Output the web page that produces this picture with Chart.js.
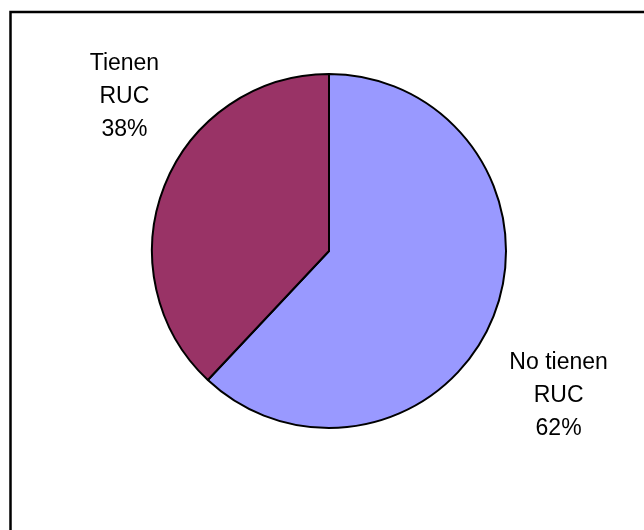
<!DOCTYPE html>
<html>
<head>
<meta charset="utf-8">
<title>RUC</title>
<script src="https://cdn.jsdelivr.net/npm/chart.js@4.4.1/dist/chart.umd.min.js"></script>
<style>
  html, body { margin: 0; padding: 0; background: #fff; }
  canvas { display: block; }
</style>
</head>
<body>
<canvas id="ruc" width="644" height="530"></canvas>
<script>
// slices, clockwise from 12 o'clock
const categories = [['No tienen', 'RUC'], ['Tienen', 'RUC']];
const percentages = [62, 38];
const sliceColors = ['#9999FF', '#993366'];

// outer frame, open on the right and bottom edges
const framePlugin = {
  id: 'frame',
  beforeDraw(chart) {
    const ctx = chart.ctx;
    ctx.save();
    ctx.fillStyle = '#fff';
    ctx.fillRect(0, 0, chart.width, chart.height);
    ctx.strokeStyle = '#000';
    ctx.lineWidth = 2.5;
    ctx.strokeRect(10.5, 12, chart.width + 20, chart.height + 20);
    ctx.restore();
  }
};

// category + percentage text placed off each slice's outer edge
const sliceLabels = {
  id: 'sliceLabels',
  afterDatasetsDraw(chart, args, opts) {
    const ctx = chart.ctx;
    const meta = chart.getDatasetMeta(0);
    ctx.save();
    ctx.font = opts.font;
    ctx.fillStyle = '#000';
    ctx.textAlign = 'center';
    ctx.textBaseline = 'middle';
    meta.data.forEach((arc, i) => {
      const p = arc.getProps(['x', 'y', 'startAngle', 'endAngle', 'outerRadius'], true);
      const mid = (p.startAngle + p.endAngle) / 2;
      const off = opts.offsets[i];
      const cx = p.x + Math.cos(mid) * p.outerRadius + off[0];
      const cy = p.y + Math.sin(mid) * p.outerRadius + off[1];
      const lines = [...chart.data.labels[i], chart.data.datasets[0].data[i] + '%'];
      const top = cy - (lines.length - 1) * opts.lineHeight / 2;
      lines.forEach((t, k) => ctx.fillText(t, cx, top + k * opts.lineHeight));
    });
    ctx.restore();
  }
};

new Chart(document.getElementById('ruc'), {
  type: 'pie',
  data: {
    labels: categories,
    datasets: [{
      data: percentages,
      backgroundColor: sliceColors,
      borderColor: '#000',
      borderWidth: 2,
      hoverOffset: 0
    }]
  },
  options: {
    responsive: false,
    animation: false,
    radius: 177,
    layout: { padding: { left: 14, right: 0, top: 0, bottom: 28 } },
    plugins: {
      legend: { display: false },
      tooltip: { enabled: false },
      sliceLabels: {
        font: '23px "Liberation Sans", Arial, sans-serif',
        lineHeight: 33,
        offsets: [[65, 79], [-40, -89]]
      }
    }
  },
  plugins: [framePlugin, sliceLabels]
});
</script>
</body>
</html>
